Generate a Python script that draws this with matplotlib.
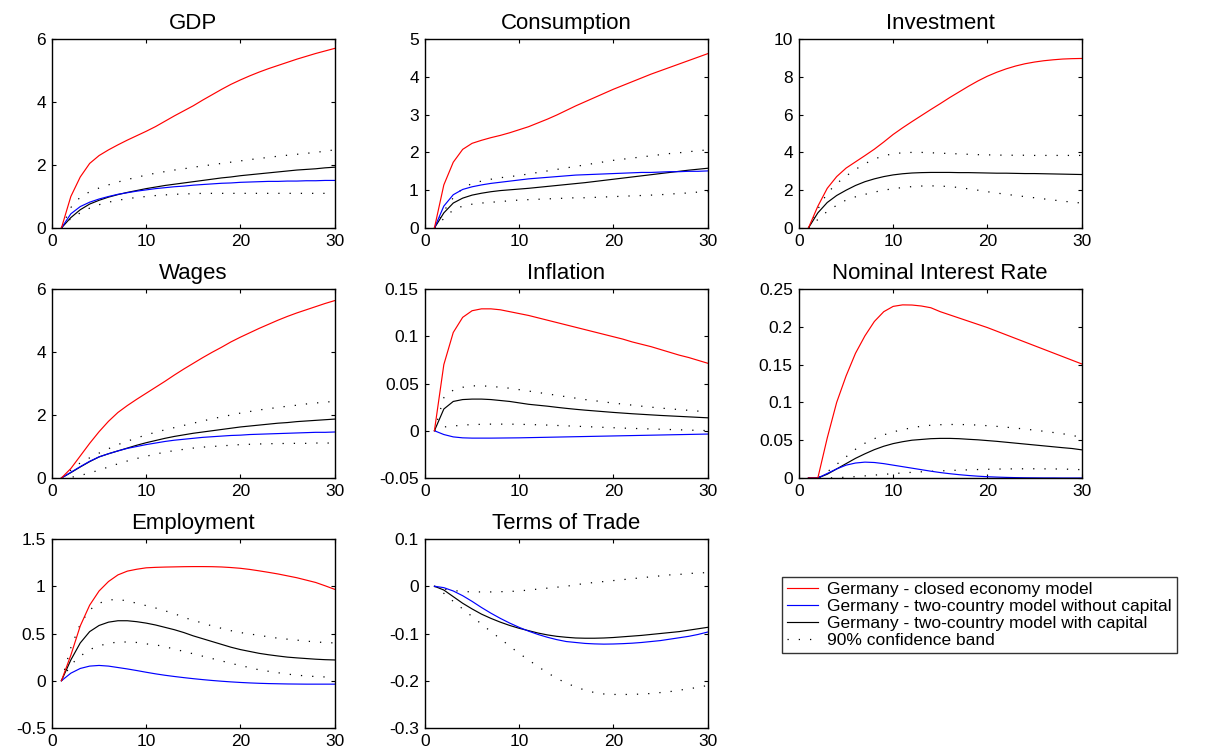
import matplotlib
matplotlib.use("Agg")
import matplotlib.pyplot as plt
from matplotlib.ticker import FormatStrFormatter
from matplotlib.lines import Line2D

plt.rcParams['font.family'] = ['Liberation Sans', 'DejaVu Sans']
plt.rcParams['axes.unicode_minus'] = False

# ---------------- data ----------------
periods = list(range(1, 31))

titles = ["GDP", "Consumption", "Investment", "Wages", "Inflation",
          "Nominal Interest Rate", "Employment", "Terms of Trade"]

legend_labels = ["Germany - closed economy model",
                 "Germany - two-country model without capital",
                 "Germany - two-country model with capital",
                 "90% confidence band"]

x_ticks = [0, 10, 20, 30]

# GDP
gdp_closed = [0, 1.0, 1.62, 2.05, 2.3, 2.48, 2.64, 2.79, 2.93, 3.07, 3.22, 3.39, 3.56, 3.72, 3.88,
              4.06, 4.23, 4.40, 4.56, 4.70, 4.83, 4.95, 5.06, 5.16, 5.26, 5.36, 5.45, 5.54, 5.62, 5.70]
gdp_nocap = [0, 0.45, 0.68, 0.82, 0.92, 1.0, 1.07, 1.12, 1.17, 1.21, 1.25, 1.28, 1.31, 1.33, 1.36,
             1.38, 1.40, 1.42, 1.43, 1.45, 1.46, 1.47, 1.48, 1.48, 1.49, 1.49, 1.50, 1.50, 1.51, 1.51]
gdp_cap = [0, 0.33, 0.58, 0.76, 0.88, 0.98, 1.06, 1.13, 1.19, 1.25, 1.30, 1.35, 1.39, 1.43, 1.47,
           1.51, 1.55, 1.59, 1.62, 1.66, 1.69, 1.72, 1.75, 1.78, 1.81, 1.84, 1.86, 1.88, 1.91, 1.93]
gdp_upper = [0, 0.65, 0.98, 1.15, 1.27, 1.37, 1.46, 1.54, 1.61, 1.68, 1.74, 1.79, 1.84, 1.88, 1.93,
             1.97, 2.01, 2.05, 2.09, 2.13, 2.17, 2.21, 2.24, 2.28, 2.31, 2.34, 2.37, 2.40, 2.44, 2.48]
gdp_lower = [0, 0.3, 0.48, 0.63, 0.74, 0.82, 0.88, 0.93, 0.97, 1.0, 1.03, 1.05, 1.07, 1.08, 1.09,
             1.10, 1.10, 1.10, 1.10, 1.10, 1.10, 1.10, 1.10, 1.10, 1.10, 1.10, 1.10, 1.10, 1.10, 1.10]

# Consumption
con_closed = [0, 1.14, 1.74, 2.08, 2.24, 2.32, 2.39, 2.45, 2.52, 2.60, 2.68, 2.78, 2.88, 2.99, 3.11,
              3.23, 3.34, 3.45, 3.56, 3.67, 3.77, 3.87, 3.97, 4.07, 4.16, 4.25, 4.34, 4.43, 4.52, 4.61]
con_nocap = [0, 0.58, 0.88, 1.02, 1.09, 1.14, 1.18, 1.21, 1.24, 1.27, 1.30, 1.32, 1.34, 1.36, 1.38,
             1.40, 1.41, 1.42, 1.43, 1.44, 1.45, 1.46, 1.47, 1.47, 1.48, 1.49, 1.49, 1.50, 1.50, 1.51]
con_cap = [0, 0.4, 0.66, 0.79, 0.87, 0.92, 0.96, 0.99, 1.01, 1.03, 1.05, 1.075, 1.10, 1.125, 1.15,
           1.175, 1.20, 1.23, 1.26, 1.29, 1.32, 1.35, 1.38, 1.41, 1.44, 1.47, 1.50, 1.53, 1.555, 1.58]
con_upper = [0, 0.45, 0.8, 1.05, 1.18, 1.24, 1.29, 1.33, 1.36, 1.39, 1.43, 1.47, 1.51, 1.55, 1.59,
             1.63, 1.67, 1.71, 1.75, 1.79, 1.82, 1.85, 1.88, 1.91, 1.94, 1.97, 1.99, 2.02, 2.04, 2.07]
con_lower = [0, 0.25, 0.48, 0.58, 0.63, 0.66, 0.68, 0.70, 0.72, 0.74, 0.75, 0.76, 0.77, 0.78, 0.79,
             0.80, 0.80, 0.81, 0.82, 0.83, 0.84, 0.85, 0.86, 0.87, 0.88, 0.90, 0.91, 0.93, 0.95, 0.96]

# Investment (no two-country model without capital)
inv_closed = [0, 1.15, 2.1, 2.72, 3.17, 3.5, 3.83, 4.17, 4.55, 4.95, 5.3, 5.63, 5.95, 6.27, 6.58,
              6.9, 7.2, 7.5, 7.78, 8.03, 8.24, 8.42, 8.57, 8.69, 8.78, 8.85, 8.9, 8.94, 8.96, 8.97]
inv_cap = [0, 0.8, 1.35, 1.72, 2.0, 2.25, 2.45, 2.6, 2.72, 2.81, 2.87, 2.91, 2.93, 2.94, 2.94,
           2.94, 2.93, 2.93, 2.92, 2.91, 2.90, 2.90, 2.89, 2.88, 2.88, 2.87, 2.86, 2.85, 2.84, 2.83]
inv_upper = [0, 1.0, 1.85, 2.35, 2.75, 3.1, 3.4, 3.65, 3.82, 3.93, 3.98, 4.0, 4.0, 3.98, 3.96,
             3.94, 3.92, 3.90, 3.88, 3.87, 3.86, 3.85, 3.85, 3.85, 3.84, 3.84, 3.84, 3.84, 3.84, 3.84]
inv_lower = [0, 0.45, 0.88, 1.2, 1.48, 1.65, 1.78, 1.9, 2.0, 2.08, 2.14, 2.19, 2.22, 2.23, 2.22,
             2.19, 2.14, 2.07, 2.0, 1.92, 1.85, 1.78, 1.72, 1.66, 1.6, 1.54, 1.48, 1.42, 1.37, 1.32]

# Wages
wag_closed = [0, 0.3, 0.7, 1.1, 1.47, 1.8, 2.08, 2.3, 2.5, 2.69, 2.88, 3.07, 3.27, 3.46, 3.64,
              3.82, 3.99, 4.15, 4.32, 4.47, 4.61, 4.75, 4.88, 5.01, 5.13, 5.24, 5.34, 5.44, 5.54, 5.63]
wag_nocap = [0, 0.18, 0.36, 0.53, 0.67, 0.77, 0.86, 0.94, 1.0, 1.06, 1.11, 1.16, 1.2, 1.23, 1.26,
             1.29, 1.31, 1.33, 1.35, 1.36, 1.38, 1.39, 1.4, 1.41, 1.42, 1.43, 1.44, 1.45, 1.45, 1.46]
wag_cap = [0, 0.17, 0.35, 0.52, 0.67, 0.77, 0.86, 0.95, 1.04, 1.12, 1.19, 1.26, 1.32, 1.37, 1.42,
           1.46, 1.5, 1.54, 1.58, 1.62, 1.65, 1.68, 1.71, 1.74, 1.76, 1.79, 1.81, 1.83, 1.85, 1.87]
wag_upper = [0, 0.25, 0.48, 0.64, 0.79, 0.93, 1.06, 1.17, 1.27, 1.37, 1.45, 1.53, 1.60, 1.67, 1.74,
             1.81, 1.88, 1.94, 2.0, 2.06, 2.11, 2.16, 2.2, 2.24, 2.28, 2.31, 2.35, 2.38, 2.41, 2.43]
wag_lower = [0, 0.02, 0.08, 0.16, 0.25, 0.35, 0.45, 0.54, 0.62, 0.69, 0.76, 0.82, 0.87, 0.91, 0.95,
             0.98, 1.0, 1.02, 1.04, 1.06, 1.07, 1.08, 1.09, 1.09, 1.1, 1.1, 1.1, 1.11, 1.11, 1.11]

# Inflation
inf_closed = [0, 0.070, 0.104, 0.120, 0.127, 0.129, 0.129, 0.128, 0.126, 0.124, 0.122, 0.1195, 0.117,
              0.1145, 0.112, 0.1095, 0.107, 0.1045, 0.102, 0.0995, 0.097, 0.094, 0.0915, 0.089, 0.086,
              0.083, 0.080, 0.0775, 0.0745, 0.0715]
inf_nocap = [0, -0.004, -0.0065, -0.0075, -0.0078, -0.0078, -0.0078, -0.0077, -0.0076, -0.0075, -0.0073,
             -0.0071, -0.0069, -0.0067, -0.0065, -0.0063, -0.0061, -0.0059, -0.0057, -0.0055, -0.0053,
             -0.0051, -0.0049, -0.0047, -0.0045, -0.0043, -0.0041, -0.0039, -0.0037, -0.0035]
inf_cap = [0, 0.023, 0.031, 0.033, 0.0335, 0.0335, 0.033, 0.032, 0.031, 0.0295, 0.028, 0.027, 0.026,
           0.0248, 0.0237, 0.0227, 0.0218, 0.021, 0.0202, 0.0194, 0.0187, 0.018, 0.0174, 0.0168, 0.0162,
           0.0157, 0.0152, 0.0147, 0.0142, 0.0137]
inf_upper = [0, 0.035, 0.043, 0.046, 0.0475, 0.0475, 0.047, 0.046, 0.045, 0.0435, 0.042, 0.0405, 0.039,
             0.0375, 0.036, 0.0345, 0.033, 0.0318, 0.0305, 0.0293, 0.0282, 0.0271, 0.026, 0.025, 0.024,
             0.0232, 0.0224, 0.0216, 0.0208, 0.0202]
inf_lower = [0, 0.004, 0.005, 0.006, 0.0065, 0.0068, 0.007, 0.007, 0.007, 0.0068, 0.0066, 0.0063, 0.006,
             0.0056, 0.0052, 0.0048, 0.0044, 0.004, 0.0036, 0.0032, 0.0028, 0.0025, 0.0022, 0.0019,
             0.0016, 0.0013, 0.001, 0.0007, 0.0004, 0.0002]

# Nominal interest rate
nir_closed = [0, 0, 0.053, 0.1, 0.135, 0.165, 0.188, 0.207, 0.22, 0.227, 0.229, 0.2288, 0.2275, 0.2252,
              0.22, 0.2158, 0.2116, 0.2074, 0.2032, 0.199, 0.1942, 0.1894, 0.1846, 0.1798, 0.175,
              0.1702, 0.1654, 0.1606, 0.1558, 0.151]
nir_nocap = [0, 0, 0.006, 0.012, 0.017, 0.0198, 0.021, 0.0205, 0.019, 0.017, 0.015, 0.013, 0.011, 0.009,
             0.0072, 0.0057, 0.0044, 0.0033, 0.0024, 0.0017, 0.0012, 0.0008, 0.0005, 0.0003, 0.0002,
             0.0001, 0.0001, 0.0, 0.0, 0.0]
nir_cap = [0, 0, 0.005, 0.012, 0.019, 0.026, 0.032, 0.0375, 0.042, 0.0455, 0.048, 0.05, 0.051, 0.052,
           0.0524, 0.0524, 0.052, 0.0512, 0.0505, 0.0495, 0.0485, 0.0473, 0.0461, 0.0449, 0.0437,
           0.0425, 0.0413, 0.0401, 0.039, 0.0373]
nir_upper = [0, 0, 0.008, 0.018, 0.028, 0.038, 0.046, 0.052, 0.057, 0.061, 0.064, 0.0665, 0.0685, 0.0698,
             0.0705, 0.0708, 0.0708, 0.0705, 0.07, 0.0692, 0.0683, 0.0672, 0.066, 0.0647, 0.0633,
             0.0618, 0.0602, 0.0585, 0.0565, 0.0535]
nir_lower = [0, 0, 0.0, 0.0005, 0.001, 0.0018, 0.0028, 0.0038, 0.0048, 0.0058, 0.0067, 0.0075, 0.0082,
             0.0088, 0.0094, 0.0099, 0.0104, 0.0108, 0.0112, 0.0115, 0.0118, 0.012, 0.0121, 0.0122,
             0.0122, 0.0121, 0.012, 0.0118, 0.0115, 0.011]

# Employment
emp_closed = [0, 0.27, 0.58, 0.8, 0.95, 1.05, 1.12, 1.16, 1.18, 1.195, 1.2, 1.203, 1.205, 1.207, 1.208,
              1.208, 1.207, 1.204, 1.198, 1.19, 1.178, 1.163, 1.147, 1.13, 1.11, 1.09, 1.065, 1.04,
              1.005, 0.968]
emp_nocap = [0, 0.08, 0.13, 0.155, 0.162, 0.155, 0.14, 0.125, 0.108, 0.09, 0.073, 0.058, 0.045, 0.033,
             0.022, 0.012, 0.003, -0.005, -0.012, -0.018, -0.023, -0.027, -0.03, -0.032, -0.034,
             -0.035, -0.036, -0.036, -0.036, -0.036]
emp_cap = [0, 0.22, 0.40, 0.52, 0.585, 0.62, 0.635, 0.635, 0.625, 0.61, 0.59, 0.565, 0.54, 0.51, 0.475,
           0.445, 0.415, 0.385, 0.355, 0.33, 0.31, 0.29, 0.275, 0.262, 0.25, 0.242, 0.235, 0.228,
           0.223, 0.22]
emp_upper = [0, 0.35, 0.6, 0.75, 0.82, 0.855, 0.86, 0.845, 0.82, 0.795, 0.77, 0.74, 0.71, 0.67, 0.64,
             0.61, 0.58, 0.555, 0.53, 0.51, 0.495, 0.48, 0.465, 0.45, 0.44, 0.43, 0.42, 0.41, 0.405, 0.40]
emp_lower = [0, 0.17, 0.26, 0.33, 0.37, 0.395, 0.41, 0.41, 0.405, 0.39, 0.38, 0.36, 0.335, 0.31, 0.285,
             0.26, 0.235, 0.21, 0.185, 0.16, 0.14, 0.115, 0.1, 0.085, 0.07, 0.06, 0.05, 0.045, 0.04, 0.04]

# Terms of trade (no closed economy model)
tot_nocap = [0, -0.003, -0.01, -0.02, -0.032, -0.045, -0.057, -0.068, -0.078, -0.087, -0.095, -0.102,
             -0.108, -0.113, -0.117, -0.119, -0.121, -0.122, -0.1225, -0.1222, -0.1215, -0.1205, -0.119,
             -0.117, -0.115, -0.112, -0.109, -0.106, -0.102, -0.097]
tot_cap = [0, -0.008, -0.022, -0.036, -0.048, -0.059, -0.068, -0.076, -0.083, -0.089, -0.094, -0.099,
           -0.103, -0.106, -0.108, -0.1095, -0.11, -0.11, -0.1095, -0.1085, -0.107, -0.1055, -0.104,
           -0.102, -0.1, -0.098, -0.096, -0.093, -0.09, -0.087]
tot_upper = [0, -0.006, -0.009, -0.011, -0.012, -0.012, -0.012, -0.0115, -0.011, -0.01, -0.008, -0.006,
             -0.004, -0.002, 0.0, 0.003, 0.006, 0.008, 0.01, 0.012, 0.014, 0.016, 0.018, 0.02, 0.022,
             0.024, 0.025, 0.027, 0.028, 0.029]
tot_lower = [0, -0.015, -0.032, -0.048, -0.064, -0.08, -0.096, -0.111, -0.127, -0.142, -0.156, -0.17,
             -0.183, -0.195, -0.205, -0.213, -0.22, -0.225, -0.228, -0.229, -0.229, -0.229, -0.228,
             -0.227, -0.225, -0.223, -0.22, -0.217, -0.214, -0.21]

# y tick labels per panel
y_ticks = [
    [0, 2, 4, 6],
    [0, 1, 2, 3, 4, 5],
    [0, 2, 4, 6, 8, 10],
    [0, 2, 4, 6],
    [-0.05, 0, 0.05, 0.1, 0.15],
    [0, 0.05, 0.1, 0.15, 0.2, 0.25],
    [-0.5, 0, 0.5, 1, 1.5],
    [-0.3, -0.2, -0.1, 0, 0.1],
]

panels = [
    (gdp_closed, gdp_nocap, gdp_cap, gdp_upper, gdp_lower),
    (con_closed, con_nocap, con_cap, con_upper, con_lower),
    (inv_closed, None, inv_cap, inv_upper, inv_lower),
    (wag_closed, wag_nocap, wag_cap, wag_upper, wag_lower),
    (inf_closed, inf_nocap, inf_cap, inf_upper, inf_lower),
    (nir_closed, nir_nocap, nir_cap, nir_upper, nir_lower),
    (emp_closed, emp_nocap, emp_cap, emp_upper, emp_lower),
    (None, tot_nocap, tot_cap, tot_upper, tot_lower),
]

# ---------------- layout / style ----------------
W, H = 1209, 753
fig = plt.figure(figsize=(W / 100, H / 100), dpi=100)

col_left_px = [52, 425, 799]
row_top_px = [39, 289, 539]
ax_w_px, ax_h_px = 282.5, 189

dot_style = (0, (1, 8))
lw_line = 0.85
lw_dot = 0.9

for i, (title, series, yt) in enumerate(zip(titles, panels, y_ticks)):
    r, c = divmod(i, 3)
    left = col_left_px[c] / W
    bottom = 1 - (row_top_px[r] + ax_h_px) / H
    ax = fig.add_axes([left, bottom, ax_w_px / W, ax_h_px / H])
    closed, nocap, cap, upper, lower = series
    ax.plot(periods, upper, color='black', lw=lw_dot, linestyle=dot_style)
    ax.plot(periods, lower, color='black', lw=lw_dot, linestyle=dot_style)
    if cap is not None:
        ax.plot(periods, cap, color='black', lw=lw_line)
    if nocap is not None:
        ax.plot(periods, nocap, color='#0000ff', lw=lw_line)
    if closed is not None:
        ax.plot(periods, closed, color='#ff0000', lw=lw_line)
    ax.set_xlim(0, 30)
    ax.set_ylim(yt[0], yt[-1])
    ax.set_xticks(x_ticks)
    ax.set_yticks(yt)
    ax.yaxis.set_major_formatter(FormatStrFormatter('%g'))
    ax.tick_params(direction='in', top=True, right=True, length=3, width=0.8,
                   labelsize=12.5, pad=4.5)
    for s in ax.spines.values():
        s.set_linewidth(1.0)
    ax.set_title(title, fontsize=16, pad=7)

handles = [Line2D([], [], color='#ff0000', lw=lw_line),
           Line2D([], [], color='#0000ff', lw=lw_line),
           Line2D([], [], color='black', lw=lw_line),
           Line2D([], [], color='black', lw=lw_dot, linestyle=dot_style)]
leg = fig.legend(handles, legend_labels, loc='upper left',
                 bbox_to_anchor=(782 / W, 1 - 577 / H), bbox_transform=fig.transFigure,
                 fontsize=12.5, frameon=True, fancybox=False, shadow=False,
                 labelspacing=0.1, handlelength=1.75, handletextpad=0.55,
                 borderpad=0.3, borderaxespad=0)
leg.get_frame().set_edgecolor('black')
leg.get_frame().set_linewidth(1.0)

fig.savefig('out.png', dpi=100)
